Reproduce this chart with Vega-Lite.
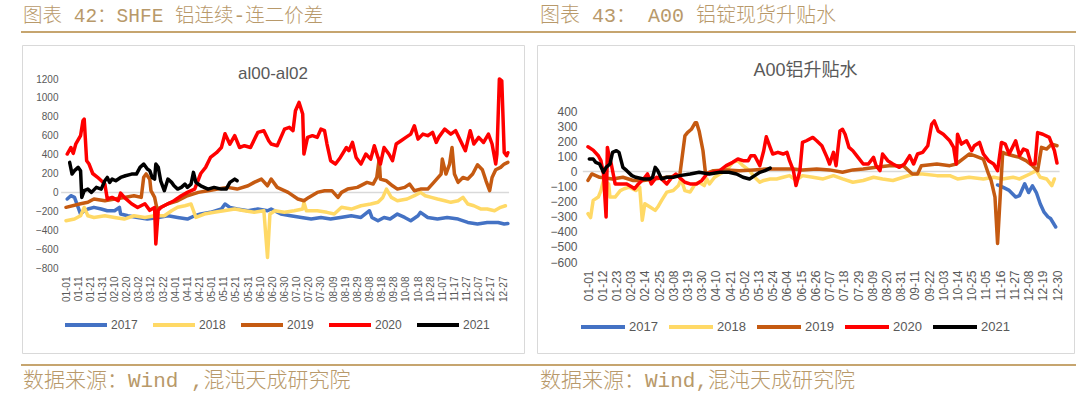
{
"$schema": "https://vega.github.io/schema/vega-lite/v6.json",
"background": "white",
"padding": {"left": 21, "top": 4, "right": 0, "bottom": 0},
"spacing": 0,
"resolve": {"scale": {"color": "independent"}, "legend": {"color": "independent"}},
"config": {"view": {"stroke": null}, "font": "Liberation Sans"},
"datasets": {
"shfe": [
{"year":"2017","d":2,"v":-70},{"year":"2017","d":5,"v":-35},{"year":"2017","d":8,"v":-53},{"year":"2017","d":11,"v":-158},{"year":"2017","d":13,"v":-229},{"year":"2017","d":16,"v":-194},{"year":"2017","d":19,"v":-176},{"year":"2017","d":24,"v":-158},{"year":"2017","d":30,"v":-176},{"year":"2017","d":35,"v":-194},{"year":"2017","d":41,"v":-194},{"year":"2017","d":45,"v":-158},{"year":"2017","d":46,"v":-229},{"year":"2017","d":52,"v":-247},{"year":"2017","d":60,"v":-265},{"year":"2017","d":68,"v":-282},{"year":"2017","d":77,"v":-265},{"year":"2017","d":85,"v":-247},{"year":"2017","d":93,"v":-265},{"year":"2017","d":101,"v":-282},{"year":"2017","d":107,"v":-247},{"year":"2017","d":112,"v":-229},{"year":"2017","d":120,"v":-211},{"year":"2017","d":129,"v":-176},{"year":"2017","d":132,"v":-123},{"year":"2017","d":136,"v":-158},{"year":"2017","d":142,"v":-176},{"year":"2017","d":151,"v":-194},{"year":"2017","d":159,"v":-176},{"year":"2017","d":167,"v":-194},{"year":"2017","d":170,"v":-176},{"year":"2017","d":178,"v":-229},{"year":"2017","d":186,"v":-247},{"year":"2017","d":195,"v":-265},{"year":"2017","d":203,"v":-282},{"year":"2017","d":211,"v":-265},{"year":"2017","d":219,"v":-282},{"year":"2017","d":227,"v":-265},{"year":"2017","d":236,"v":-247},{"year":"2017","d":244,"v":-265},{"year":"2017","d":251,"v":-194},{"year":"2017","d":253,"v":-265},{"year":"2017","d":258,"v":-300},{"year":"2017","d":263,"v":-265},{"year":"2017","d":268,"v":-282},{"year":"2017","d":274,"v":-229},{"year":"2017","d":280,"v":-265},{"year":"2017","d":285,"v":-300},{"year":"2017","d":291,"v":-247},{"year":"2017","d":293,"v":-211},{"year":"2017","d":299,"v":-265},{"year":"2017","d":307,"v":-282},{"year":"2017","d":315,"v":-265},{"year":"2017","d":324,"v":-282},{"year":"2017","d":332,"v":-318},{"year":"2017","d":340,"v":-335},{"year":"2017","d":348,"v":-318},{"year":"2017","d":357,"v":-318},{"year":"2017","d":362,"v":-335},{"year":"2017","d":365,"v":-330},
{"year":"2018","d":1,"v":-300},{"year":"2018","d":8,"v":-282},{"year":"2018","d":13,"v":-247},{"year":"2018","d":16,"v":-158},{"year":"2018","d":19,"v":-247},{"year":"2018","d":24,"v":-265},{"year":"2018","d":33,"v":-247},{"year":"2018","d":41,"v":-265},{"year":"2018","d":49,"v":-282},{"year":"2018","d":57,"v":-247},{"year":"2018","d":66,"v":-265},{"year":"2018","d":74,"v":-247},{"year":"2018","d":82,"v":-247},{"year":"2018","d":88,"v":-194},{"year":"2018","d":93,"v":-158},{"year":"2018","d":99,"v":-141},{"year":"2018","d":104,"v":-123},{"year":"2018","d":108,"v":-265},{"year":"2018","d":115,"v":-229},{"year":"2018","d":123,"v":-211},{"year":"2018","d":131,"v":-194},{"year":"2018","d":140,"v":-176},{"year":"2018","d":148,"v":-194},{"year":"2018","d":156,"v":-211},{"year":"2018","d":164,"v":-194},{"year":"2018","d":167,"v":-688},{"year":"2018","d":169,"v":-229},{"year":"2018","d":173,"v":-194},{"year":"2018","d":181,"v":-211},{"year":"2018","d":189,"v":-194},{"year":"2018","d":196,"v":-176},{"year":"2018","d":197,"v":-105},{"year":"2018","d":199,"v":-194},{"year":"2018","d":208,"v":-194},{"year":"2018","d":216,"v":-211},{"year":"2018","d":222,"v":-229},{"year":"2018","d":228,"v":-158},{"year":"2018","d":236,"v":-176},{"year":"2018","d":244,"v":-141},{"year":"2018","d":252,"v":-123},{"year":"2018","d":258,"v":-105},{"year":"2018","d":262,"v":-53},{"year":"2018","d":265,"v":35},{"year":"2018","d":269,"v":-53},{"year":"2018","d":274,"v":-88},{"year":"2018","d":282,"v":-70},{"year":"2018","d":288,"v":-35},{"year":"2018","d":293,"v":0},{"year":"2018","d":297,"v":-35},{"year":"2018","d":302,"v":-53},{"year":"2018","d":307,"v":-70},{"year":"2018","d":313,"v":-88},{"year":"2018","d":318,"v":-105},{"year":"2018","d":324,"v":-88},{"year":"2018","d":328,"v":-53},{"year":"2018","d":332,"v":-123},{"year":"2018","d":337,"v":-141},{"year":"2018","d":343,"v":-176},{"year":"2018","d":348,"v":-176},{"year":"2018","d":354,"v":-194},{"year":"2018","d":359,"v":-158},{"year":"2018","d":363,"v":-141},
{"year":"2019","d":1,"v":-158},{"year":"2019","d":13,"v":-120},{"year":"2019","d":19,"v":-105},{"year":"2019","d":24,"v":-70},{"year":"2019","d":33,"v":-88},{"year":"2019","d":41,"v":-70},{"year":"2019","d":49,"v":-53},{"year":"2019","d":57,"v":-35},{"year":"2019","d":63,"v":-53},{"year":"2019","d":65,"v":160},{"year":"2019","d":67,"v":195},{"year":"2019","d":70,"v":140},{"year":"2019","d":71,"v":18},{"year":"2019","d":74,"v":-53},{"year":"2019","d":76,"v":-176},{"year":"2019","d":79,"v":-160},{"year":"2019","d":85,"v":-120},{"year":"2019","d":93,"v":-88},{"year":"2019","d":101,"v":-35},{"year":"2019","d":110,"v":0},{"year":"2019","d":118,"v":18},{"year":"2019","d":126,"v":35},{"year":"2019","d":134,"v":53},{"year":"2019","d":142,"v":35},{"year":"2019","d":151,"v":70},{"year":"2019","d":156,"v":106},{"year":"2019","d":162,"v":141},{"year":"2019","d":167,"v":70},{"year":"2019","d":170,"v":141},{"year":"2019","d":175,"v":53},{"year":"2019","d":184,"v":0},{"year":"2019","d":192,"v":-70},{"year":"2019","d":197,"v":-88},{"year":"2019","d":201,"v":-53},{"year":"2019","d":208,"v":0},{"year":"2019","d":214,"v":18},{"year":"2019","d":220,"v":18},{"year":"2019","d":225,"v":-53},{"year":"2019","d":228,"v":0},{"year":"2019","d":233,"v":35},{"year":"2019","d":241,"v":53},{"year":"2019","d":249,"v":106},{"year":"2019","d":254,"v":88},{"year":"2019","d":257,"v":158},{"year":"2019","d":259,"v":353},{"year":"2019","d":260,"v":141},{"year":"2019","d":265,"v":123},{"year":"2019","d":270,"v":70},{"year":"2019","d":274,"v":35},{"year":"2019","d":280,"v":53},{"year":"2019","d":284,"v":88},{"year":"2019","d":288,"v":18},{"year":"2019","d":293,"v":35},{"year":"2019","d":299,"v":35},{"year":"2019","d":304,"v":106},{"year":"2019","d":310,"v":194},{"year":"2019","d":311,"v":353},{"year":"2019","d":314,"v":194},{"year":"2019","d":317,"v":300},{"year":"2019","d":319,"v":475},{"year":"2019","d":321,"v":194},{"year":"2019","d":324,"v":106},{"year":"2019","d":328,"v":158},{"year":"2019","d":332,"v":141},{"year":"2019","d":336,"v":194},{"year":"2019","d":340,"v":293},{"year":"2019","d":344,"v":240},{"year":"2019","d":347,"v":123},{"year":"2019","d":350,"v":18},{"year":"2019","d":352,"v":158},{"year":"2019","d":355,"v":240},{"year":"2019","d":359,"v":265},{"year":"2019","d":362,"v":300},{"year":"2019","d":365,"v":318},
{"year":"2020","d":2,"v":406},{"year":"2020","d":5,"v":475},{"year":"2020","d":7,"v":413},{"year":"2020","d":9,"v":510},{"year":"2020","d":13,"v":600},{"year":"2020","d":15,"v":760},{"year":"2020","d":16,"v":776},{"year":"2020","d":18,"v":335},{"year":"2020","d":20,"v":300},{"year":"2020","d":23,"v":200},{"year":"2020","d":27,"v":160},{"year":"2020","d":33,"v":88},{"year":"2020","d":35,"v":-70},{"year":"2020","d":39,"v":-53},{"year":"2020","d":44,"v":-88},{"year":"2020","d":46,"v":-7},{"year":"2020","d":49,"v":-53},{"year":"2020","d":55,"v":-120},{"year":"2020","d":60,"v":-160},{"year":"2020","d":66,"v":-120},{"year":"2020","d":70,"v":-190},{"year":"2020","d":74,"v":-160},{"year":"2020","d":75,"v":-546},{"year":"2020","d":77,"v":-190},{"year":"2020","d":79,"v":-160},{"year":"2020","d":85,"v":-120},{"year":"2020","d":90,"v":-88},{"year":"2020","d":96,"v":-35},{"year":"2020","d":101,"v":0},{"year":"2020","d":107,"v":35},{"year":"2020","d":112,"v":200},{"year":"2020","d":116,"v":265},{"year":"2020","d":120,"v":370},{"year":"2020","d":125,"v":420},{"year":"2020","d":129,"v":475},{"year":"2020","d":132,"v":620},{"year":"2020","d":136,"v":510},{"year":"2020","d":140,"v":600},{"year":"2020","d":144,"v":475},{"year":"2020","d":148,"v":494},{"year":"2020","d":153,"v":475},{"year":"2020","d":159,"v":635},{"year":"2020","d":164,"v":653},{"year":"2020","d":168,"v":547},{"year":"2020","d":170,"v":512},{"year":"2020","d":175,"v":494},{"year":"2020","d":181,"v":670},{"year":"2020","d":185,"v":688},{"year":"2020","d":188,"v":653},{"year":"2020","d":190,"v":864},{"year":"2020","d":193,"v":952},{"year":"2020","d":196,"v":829},{"year":"2020","d":197,"v":406},{"year":"2020","d":200,"v":582},{"year":"2020","d":204,"v":600},{"year":"2020","d":208,"v":582},{"year":"2020","d":211,"v":670},{"year":"2020","d":214,"v":653},{"year":"2020","d":216,"v":512},{"year":"2020","d":219,"v":335},{"year":"2020","d":223,"v":300},{"year":"2020","d":227,"v":370},{"year":"2020","d":232,"v":475},{"year":"2020","d":234,"v":441},{"year":"2020","d":237,"v":529},{"year":"2020","d":240,"v":370},{"year":"2020","d":244,"v":300},{"year":"2020","d":248,"v":406},{"year":"2020","d":252,"v":352},{"year":"2020","d":255,"v":494},{"year":"2020","d":258,"v":370},{"year":"2020","d":260,"v":300},{"year":"2020","d":263,"v":475},{"year":"2020","d":267,"v":406},{"year":"2020","d":270,"v":335},{"year":"2020","d":273,"v":512},{"year":"2020","d":277,"v":547},{"year":"2020","d":281,"v":582},{"year":"2020","d":285,"v":617},{"year":"2020","d":288,"v":705},{"year":"2020","d":291,"v":564},{"year":"2020","d":295,"v":617},{"year":"2020","d":299,"v":600},{"year":"2020","d":303,"v":635},{"year":"2020","d":306,"v":529},{"year":"2020","d":308,"v":582},{"year":"2020","d":313,"v":670},{"year":"2020","d":318,"v":617},{"year":"2020","d":322,"v":653},{"year":"2020","d":326,"v":547},{"year":"2020","d":330,"v":441},{"year":"2020","d":334,"v":653},{"year":"2020","d":337,"v":512},{"year":"2020","d":341,"v":582},{"year":"2020","d":345,"v":529},{"year":"2020","d":349,"v":617},{"year":"2020","d":352,"v":512},{"year":"2020","d":355,"v":300},{"year":"2020","d":356,"v":406},{"year":"2020","d":358,"v":1200},{"year":"2020","d":360,"v":1180},{"year":"2020","d":362,"v":423},{"year":"2020","d":364,"v":388},{"year":"2020","d":365,"v":420},
{"year":"2021","d":4,"v":318},{"year":"2021","d":6,"v":194},{"year":"2021","d":8,"v":230},{"year":"2021","d":11,"v":265},{"year":"2021","d":13,"v":230},{"year":"2021","d":14,"v":-53},{"year":"2021","d":16,"v":18},{"year":"2021","d":19,"v":35},{"year":"2021","d":22,"v":0},{"year":"2021","d":26,"v":53},{"year":"2021","d":30,"v":35},{"year":"2021","d":33,"v":123},{"year":"2021","d":35,"v":158},{"year":"2021","d":37,"v":106},{"year":"2021","d":39,"v":141},{"year":"2021","d":42,"v":123},{"year":"2021","d":46,"v":158},{"year":"2021","d":50,"v":176},{"year":"2021","d":55,"v":194},{"year":"2021","d":59,"v":194},{"year":"2021","d":62,"v":265},{"year":"2021","d":65,"v":300},{"year":"2021","d":68,"v":247},{"year":"2021","d":70,"v":230},{"year":"2021","d":72,"v":158},{"year":"2021","d":74,"v":141},{"year":"2021","d":75,"v":300},{"year":"2021","d":77,"v":265},{"year":"2021","d":79,"v":123},{"year":"2021","d":82,"v":18},{"year":"2021","d":85,"v":141},{"year":"2021","d":88,"v":106},{"year":"2021","d":90,"v":70},{"year":"2021","d":93,"v":35},{"year":"2021","d":96,"v":53},{"year":"2021","d":99,"v":88},{"year":"2021","d":101,"v":53},{"year":"2021","d":104,"v":88},{"year":"2021","d":106,"v":212},{"year":"2021","d":108,"v":106},{"year":"2021","d":112,"v":70},{"year":"2021","d":118,"v":35},{"year":"2021","d":123,"v":53},{"year":"2021","d":129,"v":35},{"year":"2021","d":133,"v":35},{"year":"2021","d":136,"v":106},{"year":"2021","d":140,"v":141},{"year":"2021","d":142,"v":123}
],
"a00": [
{"year":"2017","d":318,"v":-90},{"year":"2017","d":322,"v":-104},{"year":"2017","d":327,"v":-126},{"year":"2017","d":332,"v":-170},{"year":"2017","d":335,"v":-160},{"year":"2017","d":339,"v":-82},{"year":"2017","d":342,"v":-140},{"year":"2017","d":345,"v":-95},{"year":"2017","d":348,"v":-140},{"year":"2017","d":351,"v":-214},{"year":"2017","d":354,"v":-270},{"year":"2017","d":357,"v":-301},{"year":"2017","d":359,"v":-312},{"year":"2017","d":361,"v":-340},{"year":"2017","d":363,"v":-368},
{"year":"2018","d":1,"v":-280},{"year":"2018","d":3,"v":-306},{"year":"2018","d":5,"v":-192},{"year":"2018","d":9,"v":-170},{"year":"2018","d":11,"v":-127},{"year":"2018","d":13,"v":-60},{"year":"2018","d":17,"v":-83},{"year":"2018","d":18,"v":-170},{"year":"2018","d":22,"v":-170},{"year":"2018","d":26,"v":-127},{"year":"2018","d":29,"v":-115},{"year":"2018","d":33,"v":-104},{"year":"2018","d":38,"v":-127},{"year":"2018","d":41,"v":-104},{"year":"2018","d":43,"v":-324},{"year":"2018","d":45,"v":-214},{"year":"2018","d":49,"v":-236},{"year":"2018","d":53,"v":-258},{"year":"2018","d":55,"v":-236},{"year":"2018","d":58,"v":-192},{"year":"2018","d":62,"v":-137},{"year":"2018","d":67,"v":-127},{"year":"2018","d":71,"v":-94},{"year":"2018","d":73,"v":-50},{"year":"2018","d":76,"v":-127},{"year":"2018","d":80,"v":-137},{"year":"2018","d":84,"v":-83},{"year":"2018","d":87,"v":-72},{"year":"2018","d":91,"v":-94},{"year":"2018","d":93,"v":-50},{"year":"2018","d":95,"v":-83},{"year":"2018","d":99,"v":-39},{"year":"2018","d":103,"v":-17},{"year":"2018","d":108,"v":5},{"year":"2018","d":113,"v":60},{"year":"2018","d":117,"v":71},{"year":"2018","d":121,"v":38},{"year":"2018","d":126,"v":5},{"year":"2018","d":130,"v":-39},{"year":"2018","d":134,"v":-72},{"year":"2018","d":137,"v":-60},{"year":"2018","d":142,"v":-50},{"year":"2018","d":147,"v":-50},{"year":"2018","d":152,"v":-39},{"year":"2018","d":157,"v":-28},{"year":"2018","d":162,"v":-60},{"year":"2018","d":167,"v":-28},{"year":"2018","d":175,"v":-39},{"year":"2018","d":183,"v":-50},{"year":"2018","d":191,"v":-28},{"year":"2018","d":198,"v":-50},{"year":"2018","d":206,"v":-72},{"year":"2018","d":214,"v":-60},{"year":"2018","d":222,"v":-39},{"year":"2018","d":229,"v":-50},{"year":"2018","d":237,"v":-60},{"year":"2018","d":245,"v":-39},{"year":"2018","d":253,"v":-17},{"year":"2018","d":260,"v":-17},{"year":"2018","d":271,"v":-28},{"year":"2018","d":281,"v":-28},{"year":"2018","d":287,"v":-50},{"year":"2018","d":296,"v":-39},{"year":"2018","d":307,"v":-50},{"year":"2018","d":315,"v":-39},{"year":"2018","d":322,"v":-50},{"year":"2018","d":330,"v":-39},{"year":"2018","d":335,"v":-50},{"year":"2018","d":343,"v":-17},{"year":"2018","d":348,"v":5},{"year":"2018","d":351,"v":-39},{"year":"2018","d":356,"v":-50},{"year":"2018","d":360,"v":-94},{"year":"2018","d":362,"v":-50},
{"year":"2019","d":1,"v":-60},{"year":"2019","d":4,"v":-17},{"year":"2019","d":10,"v":-39},{"year":"2019","d":20,"v":-50},{"year":"2019","d":28,"v":-39},{"year":"2019","d":36,"v":-60},{"year":"2019","d":44,"v":-60},{"year":"2019","d":52,"v":-50},{"year":"2019","d":62,"v":-39},{"year":"2019","d":72,"v":-28},{"year":"2019","d":76,"v":235},{"year":"2019","d":78,"v":257},{"year":"2019","d":81,"v":279},{"year":"2019","d":84,"v":323},{"year":"2019","d":85,"v":323},{"year":"2019","d":87,"v":268},{"year":"2019","d":90,"v":137},{"year":"2019","d":92,"v":-17},{"year":"2019","d":98,"v":5},{"year":"2019","d":108,"v":10},{"year":"2019","d":118,"v":5},{"year":"2019","d":129,"v":10},{"year":"2019","d":139,"v":16},{"year":"2019","d":149,"v":16},{"year":"2019","d":160,"v":16},{"year":"2019","d":167,"v":10},{"year":"2019","d":178,"v":16},{"year":"2019","d":188,"v":10},{"year":"2019","d":198,"v":-6},{"year":"2019","d":206,"v":10},{"year":"2019","d":214,"v":16},{"year":"2019","d":224,"v":27},{"year":"2019","d":234,"v":38},{"year":"2019","d":245,"v":38},{"year":"2019","d":252,"v":-17},{"year":"2019","d":256,"v":-17},{"year":"2019","d":259,"v":38},{"year":"2019","d":271,"v":49},{"year":"2019","d":281,"v":38},{"year":"2019","d":286,"v":49},{"year":"2019","d":291,"v":82},{"year":"2019","d":296,"v":115},{"year":"2019","d":300,"v":104},{"year":"2019","d":307,"v":82},{"year":"2019","d":311,"v":-17},{"year":"2019","d":313,"v":-60},{"year":"2019","d":316,"v":-170},{"year":"2019","d":318,"v":-477},{"year":"2019","d":320,"v":-170},{"year":"2019","d":322,"v":126},{"year":"2019","d":325,"v":115},{"year":"2019","d":330,"v":104},{"year":"2019","d":335,"v":93},{"year":"2019","d":340,"v":71},{"year":"2019","d":345,"v":38},{"year":"2019","d":349,"v":5},{"year":"2019","d":352,"v":159},{"year":"2019","d":356,"v":148},{"year":"2019","d":360,"v":181},{"year":"2019","d":364,"v":170},
{"year":"2020","d":1,"v":163},{"year":"2020","d":5,"v":141},{"year":"2020","d":9,"v":104},{"year":"2020","d":11,"v":71},{"year":"2020","d":13,"v":-17},{"year":"2020","d":15,"v":-302},{"year":"2020","d":16,"v":159},{"year":"2020","d":17,"v":115},{"year":"2020","d":19,"v":49},{"year":"2020","d":22,"v":-83},{"year":"2020","d":26,"v":-83},{"year":"2020","d":31,"v":-83},{"year":"2020","d":35,"v":-104},{"year":"2020","d":37,"v":-115},{"year":"2020","d":40,"v":-83},{"year":"2020","d":44,"v":-50},{"year":"2020","d":47,"v":-17},{"year":"2020","d":50,"v":-83},{"year":"2020","d":54,"v":-39},{"year":"2020","d":58,"v":-50},{"year":"2020","d":62,"v":-83},{"year":"2020","d":66,"v":-39},{"year":"2020","d":69,"v":-17},{"year":"2020","d":73,"v":-50},{"year":"2020","d":76,"v":-72},{"year":"2020","d":80,"v":-83},{"year":"2020","d":85,"v":-83},{"year":"2020","d":89,"v":-61},{"year":"2020","d":93,"v":-17},{"year":"2020","d":98,"v":-6},{"year":"2020","d":103,"v":5},{"year":"2020","d":108,"v":38},{"year":"2020","d":113,"v":60},{"year":"2020","d":117,"v":82},{"year":"2020","d":121,"v":71},{"year":"2020","d":125,"v":71},{"year":"2020","d":127,"v":104},{"year":"2020","d":130,"v":104},{"year":"2020","d":132,"v":71},{"year":"2020","d":134,"v":38},{"year":"2020","d":137,"v":137},{"year":"2020","d":139,"v":229},{"year":"2020","d":142,"v":159},{"year":"2020","d":144,"v":115},{"year":"2020","d":148,"v":126},{"year":"2020","d":152,"v":115},{"year":"2020","d":155,"v":126},{"year":"2020","d":157,"v":71},{"year":"2020","d":160,"v":5},{"year":"2020","d":162,"v":-94},{"year":"2020","d":165,"v":5},{"year":"2020","d":167,"v":192},{"year":"2020","d":170,"v":203},{"year":"2020","d":175,"v":225},{"year":"2020","d":178,"v":203},{"year":"2020","d":182,"v":170},{"year":"2020","d":186,"v":93},{"year":"2020","d":188,"v":49},{"year":"2020","d":191,"v":126},{"year":"2020","d":193,"v":38},{"year":"2020","d":196,"v":268},{"year":"2020","d":198,"v":279},{"year":"2020","d":200,"v":246},{"year":"2020","d":203,"v":159},{"year":"2020","d":206,"v":137},{"year":"2020","d":210,"v":93},{"year":"2020","d":214,"v":49},{"year":"2020","d":218,"v":49},{"year":"2020","d":222,"v":93},{"year":"2020","d":224,"v":38},{"year":"2020","d":227,"v":5},{"year":"2020","d":229,"v":115},{"year":"2020","d":233,"v":71},{"year":"2020","d":237,"v":49},{"year":"2020","d":242,"v":27},{"year":"2020","d":246,"v":49},{"year":"2020","d":250,"v":104},{"year":"2020","d":253,"v":49},{"year":"2020","d":256,"v":115},{"year":"2020","d":260,"v":126},{"year":"2020","d":264,"v":170},{"year":"2020","d":267,"v":312},{"year":"2020","d":269,"v":334},{"year":"2020","d":272,"v":268},{"year":"2020","d":276,"v":246},{"year":"2020","d":281,"v":203},{"year":"2020","d":284,"v":159},{"year":"2020","d":286,"v":49},{"year":"2020","d":287,"v":246},{"year":"2020","d":290,"v":181},{"year":"2020","d":294,"v":203},{"year":"2020","d":298,"v":137},{"year":"2020","d":300,"v":170},{"year":"2020","d":304,"v":192},{"year":"2020","d":307,"v":115},{"year":"2020","d":311,"v":71},{"year":"2020","d":315,"v":49},{"year":"2020","d":318,"v":5},{"year":"2020","d":321,"v":192},{"year":"2020","d":324,"v":181},{"year":"2020","d":327,"v":115},{"year":"2020","d":332,"v":203},{"year":"2020","d":335,"v":104},{"year":"2020","d":338,"v":148},{"year":"2020","d":341,"v":137},{"year":"2020","d":344,"v":49},{"year":"2020","d":347,"v":49},{"year":"2020","d":349,"v":257},{"year":"2020","d":353,"v":246},{"year":"2020","d":358,"v":225},{"year":"2020","d":362,"v":137},{"year":"2020","d":364,"v":55},
{"year":"2021","d":2,"v":82},{"year":"2021","d":5,"v":82},{"year":"2021","d":7,"v":60},{"year":"2021","d":10,"v":49},{"year":"2021","d":13,"v":-6},{"year":"2021","d":15,"v":27},{"year":"2021","d":18,"v":49},{"year":"2021","d":20,"v":126},{"year":"2021","d":23,"v":137},{"year":"2021","d":25,"v":126},{"year":"2021","d":28,"v":27},{"year":"2021","d":31,"v":5},{"year":"2021","d":35,"v":-28},{"year":"2021","d":38,"v":-39},{"year":"2021","d":44,"v":-50},{"year":"2021","d":49,"v":-50},{"year":"2021","d":51,"v":-39},{"year":"2021","d":53,"v":27},{"year":"2021","d":55,"v":5},{"year":"2021","d":58,"v":-50},{"year":"2021","d":62,"v":-39},{"year":"2021","d":67,"v":-39},{"year":"2021","d":72,"v":-28},{"year":"2021","d":80,"v":-17},{"year":"2021","d":87,"v":-6},{"year":"2021","d":95,"v":-17},{"year":"2021","d":103,"v":-6},{"year":"2021","d":110,"v":-6},{"year":"2021","d":116,"v":-17},{"year":"2021","d":121,"v":-39},{"year":"2021","d":126,"v":-50},{"year":"2021","d":130,"v":-28},{"year":"2021","d":134,"v":-6},{"year":"2021","d":138,"v":5},{"year":"2021","d":142,"v":22}
]
},
"hconcat": [
{
"spacing": 10,
"vconcat": [
{
"width": 513, "height": 0.01,
"data": {"values": []},
"mark": {"type": "text"},
"encoding": {},
"view": {"stroke": "#C6A56F", "strokeWidth": 2},
"title": {"text": "图表 42：SHFE 铝连续-连二价差", "anchor": "start", "orient": "top", "offset": 6, "dx": 1, "font": "'Liberation Mono', 'Noto Sans CJK SC'", "fontSize": 19.5, "fontWeight": 300, "color": "#B8996A"}
},
{
"width": 502, "height": 308,
"view": {"stroke": "#D9D9D9", "strokeWidth": 1},
"title": {"text": "al00-al02", "anchor": "middle", "frame": "group", "orient": "top", "offset": -38, "font": "Liberation Sans", "fontSize": 17, "fontWeight": "normal", "color": "#595959"},
"encoding": {
"x": {"field": "d", "type": "quantitative", "scale": {"domain": [1, 361], "range": [44, 481], "nice": false, "zero": false},
"axis": {"values": [1,11,21,31,41,51,61,71,81,91,101,111,121,131,141,151,161,171,181,191,201,211,221,231,241,251,261,271,281,291,301,311,321,331,341,351,361], "labelExpr": "timeFormat(datetime(2017, 0, datum.value), '%m-%d')", "labelAngle": -90, "labelFontSize": 10, "labelColor": "#595959", "labelPadding": 8, "ticks": false, "tickSize": 0, "domain": false, "grid": false, "title": null, "offset": -85, "labelOverlap": false, "labelFlush": false, "labelBound": false, "labelSeparation": 0}},
"y": {"field": "v", "type": "quantitative", "scale": {"domain": [-800, 1200], "range": [223, 34], "nice": false, "zero": false},
"axis": {"values": [-800,-600,-400,-200,0,200,400,600,800,1000,1200], "format": "d", "labelFontSize": 10, "labelColor": "#595959", "labelPadding": 3, "ticks": false, "tickSize": 0, "domain": false, "grid": false, "title": null, "offset": -39, "labelOverlap": false}}
},
"layer": [
{
"data": {"values": [{"d": -3, "d2": 366, "v": 0}]},
"mark": {"type": "rule", "color": "#D9D9D9", "strokeWidth": 1.5},
"encoding": {"x2": {"field": "d2"}}
},
{
"data": {"name": "shfe"},
"mark": {"type": "line", "strokeWidth": 3.5, "strokeCap": "round", "strokeJoin": "round"},
"encoding": {
"color": {"field": "year", "type": "nominal", "scale": {"domain": ["2017","2018","2019","2020","2021"], "range": ["#4472C4","#FFD966","#C55A11","#FF0000","#000000"]},
"legend": {"orient": "none", "legendX": 41, "legendY": 270, "direction": "horizontal", "columns": 5, "title": null, "symbolType": "stroke", "symbolSize": 1764, "symbolStrokeWidth": 4, "labelFontSize": 12, "labelColor": "#595959", "labelOffset": 2, "columnPadding": 7}}
}
}
]
},
{
"width": 513, "height": 0.01,
"data": {"values": []},
"mark": {"type": "text"},
"encoding": {},
"view": {"stroke": "#C6A56F", "strokeWidth": 2},
"title": {"text": "数据来源：Wind ,混沌天成研究院", "anchor": "start", "orient": "bottom", "offset": 5, "dx": 1, "font": "'Liberation Mono', 'Noto Sans CJK SC'", "fontSize": 21, "fontWeight": 300, "color": "#B8996A"}
}
]
},
{
"spacing": 10,
"vconcat": [
{
"width": 538, "height": 0.01,
"data": {"values": []},
"mark": {"type": "text"},
"encoding": {},
"view": {"stroke": "#C6A56F", "strokeWidth": 2},
"title": {"text": "图表 43： A00 铝锭现货升贴水", "anchor": "start", "orient": "top", "offset": 6, "dx": 3, "font": "'Liberation Mono', 'Noto Sans CJK SC'", "fontSize": 20, "fontWeight": 300, "color": "#B8996A"}
},
{
"width": 537, "height": 308,
"view": {"stroke": "#D9D9D9", "strokeWidth": 1},
"title": {"text": "A00铝升贴水", "anchor": "middle", "frame": "group", "orient": "top", "offset": -35, "font": "'Liberation Sans', 'Noto Sans CJK SC'", "fontSize": 18, "fontWeight": "normal", "color": "#595959"},
"encoding": {
"x": {"field": "d", "type": "quantitative", "scale": {"domain": [1, 364], "range": [51, 520], "nice": false, "zero": false},
"axis": {"values": [1,12,23,34,45,56,67,78,89,100,111,122,133,144,155,166,177,188,199,210,221,232,243,254,265,276,287,298,309,320,331,342,353,364], "labelExpr": "timeFormat(datetime(2017, 0, datum.value), '%m-%d')", "labelAngle": -90, "labelFontSize": 12, "labelColor": "#595959", "labelPadding": 8, "ticks": false, "tickSize": 0, "domain": false, "grid": false, "title": null, "offset": -91, "labelOverlap": false, "labelFlush": false, "labelBound": false, "labelSeparation": 0}},
"y": {"field": "v", "type": "quantitative", "scale": {"domain": [-600, 400], "range": [217, 66], "nice": false, "zero": false},
"axis": {"values": [-600,-500,-400,-300,-200,-100,0,100,200,300,400], "format": "d", "labelFontSize": 12, "labelColor": "#595959", "labelPadding": 3, "ticks": false, "tickSize": 0, "domain": false, "grid": false, "title": null, "offset": -43, "labelOverlap": false}}
},
"layer": [
{
"data": {"values": [{"d": -3, "d2": 366, "v": 0}]},
"mark": {"type": "rule", "color": "#D9D9D9", "strokeWidth": 1.5},
"encoding": {"x2": {"field": "d2"}}
},
{
"data": {"name": "a00"},
"mark": {"type": "line", "strokeWidth": 3.5, "strokeCap": "round", "strokeJoin": "round"},
"encoding": {
"color": {"field": "year", "type": "nominal", "scale": {"domain": ["2017","2018","2019","2020","2021"], "range": ["#4472C4","#FFD966","#C55A11","#FF0000","#000000"]},
"legend": {"orient": "none", "legendX": 42, "legendY": 271, "direction": "horizontal", "columns": 5, "title": null, "symbolType": "stroke", "symbolSize": 1936, "symbolStrokeWidth": 4, "labelFontSize": 13, "labelColor": "#595959", "labelOffset": 2, "columnPadding": 3}}
}
}
]
},
{
"width": 538, "height": 0.01,
"data": {"values": []},
"mark": {"type": "text"},
"encoding": {},
"view": {"stroke": "#C6A56F", "strokeWidth": 2},
"title": {"text": "数据来源：Wind,混沌天成研究院", "anchor": "start", "orient": "bottom", "offset": 5, "dx": 3, "font": "'Liberation Mono', 'Noto Sans CJK SC'", "fontSize": 21, "fontWeight": 300, "color": "#B8996A"}
}
]
}
]
}
